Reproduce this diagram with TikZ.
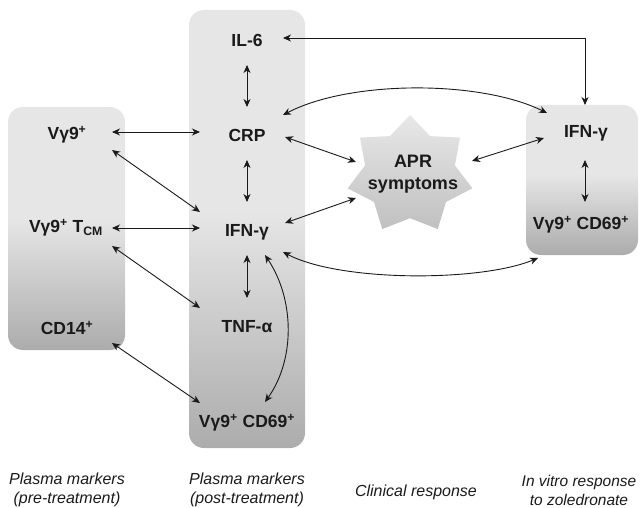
\documentclass[tikz,border=0pt]{standalone}
\usepackage{fontspec}
\setmainfont{Liberation Sans}
\usetikzlibrary{arrows.meta,calc}

\definecolor{plight}{HTML}{E6E6E6}
\definecolor{pdark}{HTML}{ACACAC}
\definecolor{slight}{HTML}{E8E8E8}
\definecolor{sdark}{HTML}{C0C0C0}
\definecolor{ink}{HTML}{1A1A1A}

% light upper part, darkening towards the bottom edge
\pgfdeclareverticalshading{panelshade}{100bp}{color(0bp)=(pdark); color(25bp)=(pdark); color(52bp)=(plight); color(100bp)=(plight)}
\pgfdeclareverticalshading{starshade}{100bp}{color(0bp)=(sdark); color(25bp)=(sdark); color(75bp)=(slight); color(100bp)=(slight)}

\begin{document}
\begin{tikzpicture}[x=1pt,y=-1pt,
  panel/.style={shading=panelshade, rounded corners=15pt},
  lab/.style={font=\bfseries\fontsize{17.5}{20}\selectfont, text=ink, inner sep=0pt},
  captext/.style={font=\itshape\fontsize{16}{19}\selectfont, text=ink, align=center, inner sep=0pt},
  ltip/.tip={Stealth[length=8pt,width=7pt,inset=2.5pt]},
  link/.style={draw=ink, line width=0.9pt, ltip-ltip}]
\useasboundingbox (0,0) rectangle (640,508);

% column panels
\shade[panel] (8,107) rectangle (125,350);
\shade[panel] (189,10) rectangle (305,448);
\shade[panel] (526,105) rectangle (638,255);

% seven-pointed star
\coordinate (aprc) at (410,175);
\shade[shading=starshade]
  plot[domain=0:14, samples=15, variable=\k]
  ({410+(64*(0.72+0.28*mod(round(\k)+1,2)))*cos(-90+\k*360/14)},
   {175+(60*(0.72+0.28*mod(round(\k)+1,2)))*sin(-90+\k*360/14)}) -- cycle;

% pre-treatment markers
\node[lab] (v9)   at (67,135) {Vγ9\textsuperscript{+}};
\node[lab] (vtcm) at (66,228) {Vγ9\textsuperscript{+} T\textsubscript{CM}};
\node[lab] (cd14) at (67,328) {CD14\textsuperscript{+}};

% post-treatment markers
\node[lab] (il6)   at (247,40)  {IL-6};
\node[lab] (crp)   at (247,135) {CRP};
\node[lab] (ifnm)  at (247,232) {IFN-γ};
\node[lab] (tnf)   at (247,327) {TNF-α};
\node[lab] (cd69m) at (247,423) {Vγ9\textsuperscript{+} CD69\textsuperscript{+}};

% clinical response
\node[lab, align=center, font=\bfseries\fontsize{18}{22}\selectfont] (apr) at (413,174) {APR\\symptoms};

% in vitro response
\node[lab] (ifnr)  at (586,133) {IFN-γ};
\node[lab] (cd69r) at (581,225) {Vγ9\textsuperscript{+} CD69\textsuperscript{+}};

% captions
\node[captext] (capA) at (67,490)  {Plasma markers\\(pre-treatment)};
\node[captext] (capB) at (247,490) {Plasma markers\\(post-treatment)};
\node[captext] (capC) at (416,492) {Clinical response};
\node[captext, font=\itshape\fontsize{15.5}{19}\selectfont] (capD) at (579,490) {In vitro response\\to zoledronate};

% links
\draw[link] ($(il6)+(36,-2)$) -- ($(il6)+(338,-2)$) -- ($(ifnr)+(-1,-28)$);
\draw[link] ($(v9)+(45,-3)$) -- ($(crp)+(-47,-3)$);
\draw[link] ($(v9)+(45,15)$) -- ($(ifnm)+(-47,-20)$);
\draw[link] ($(vtcm)+(46,0)$) -- ($(ifnm)+(-47,-4)$);
\draw[link] ($(vtcm)+(46,18)$) -- ($(tnf)+(-47,-19)$);
\draw[link] ($(cd14)+(45,15)$) -- ($(cd69m)+(-47,-20)$);

\draw[link] ($(il6)+(0,25)$) -- ($(crp)+(0,-28)$);
\draw[link] ($(crp)+(0,25)$) -- ($(ifnm)+(0,-30)$);
\draw[link] ($(ifnm)+(0,23)$) -- ($(tnf)+(0,-29)$);
\draw[link] ($(ifnm)+(18,23)$) .. controls ($(ifnm)+(48,68)$) and ($(cd69m)+(48,-63)$) .. ($(cd69m)+(18,-21)$);

\draw[link] ($(crp)+(38,2)$) -- ($(aprc)+(-54,-13)$);
\draw[link] ($(ifnm)+(38,-9)$) -- ($(aprc)+(-54,23)$);
\draw[link] ($(crp)+(36,-20)$) .. controls ($(crp)+(103,-55)$) and ($(ifnr)+(-106,-53)$) .. ($(ifnr)+(-39,-20)$);
\draw[link] ($(aprc)+(62,-14)$) -- ($(ifnr)+(-42,5)$);
\draw[link] ($(ifnm)+(36,20)$) .. controls ($(ifnm)+(93,50)$) and ($(cd69r)+(-101,57)$) .. ($(cd69r)+(-43,33)$);
\draw[link] ($(ifnr)+(-1,27)$) -- ($(cd69r)+(4,-23)$);
\end{tikzpicture}
\end{document}
